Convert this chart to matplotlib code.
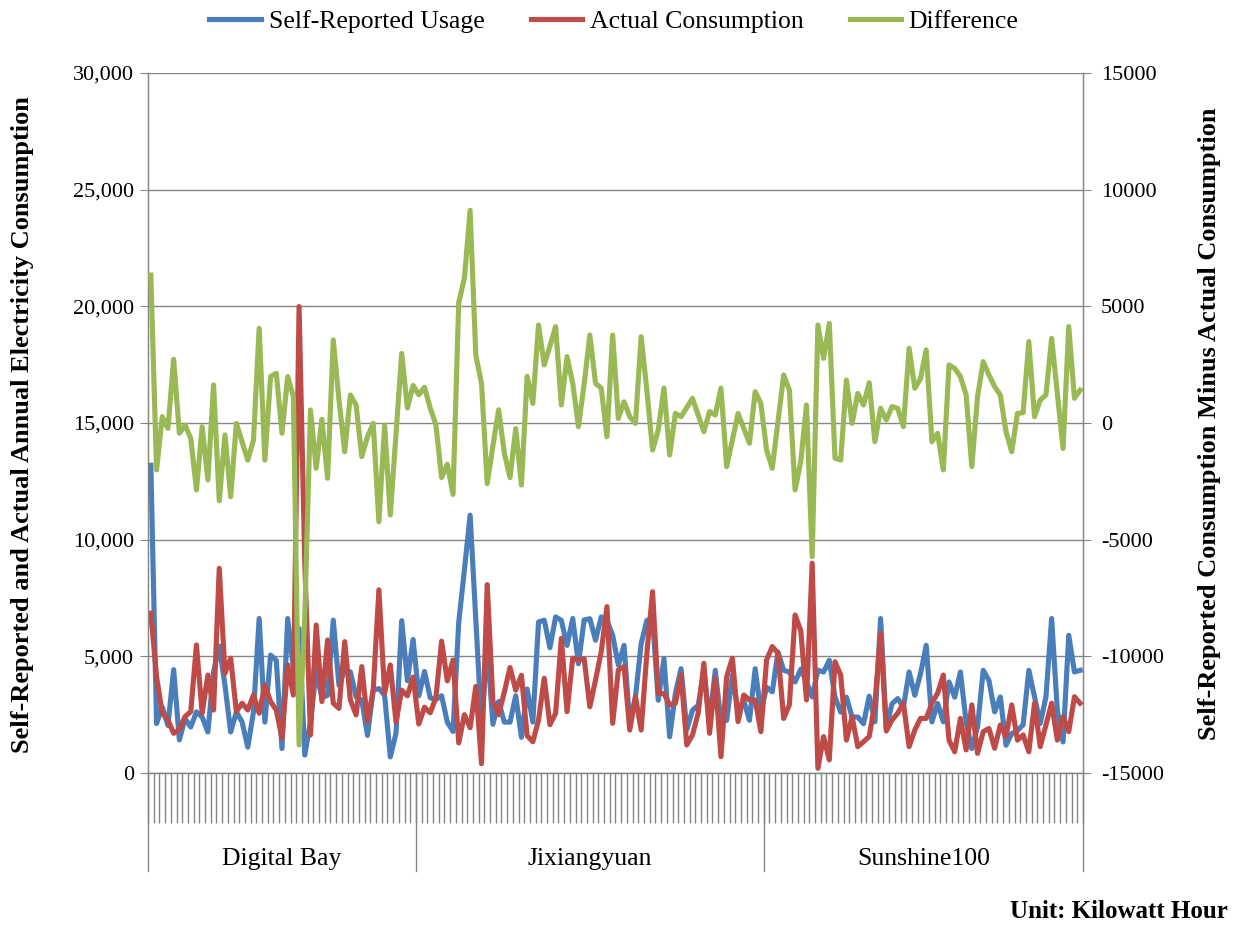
import matplotlib
matplotlib.use("Agg")
import matplotlib.pyplot as plt
import matplotlib.transforms as mtransforms
import numpy as np
from matplotlib.ticker import MultipleLocator, FuncFormatter

plt.rcParams['font.family'] = ['Liberation Serif', 'DejaVu Serif']

# ---------------- data ----------------
groups = ["Digital Bay", "Jixiangyuan", "Sunshine100"]
group_sizes = [47, 61, 56]

self_reported = [
    13190, 2120, 2830, 2040, 4430, 1420, 2330, 1970, 2620, 2400, 1760, 4330, 5440, 3760, 1760,
    2615, 2190, 1110, 2610, 6620, 2180, 5050, 4830, 1050, 6620, 4470, 6190, 770, 2190, 4400,
    3220, 3330, 6550, 3760, 4400, 4330, 3260, 3120, 1610, 3545, 3620, 3330, 690,
    1700, 6530, 3955, 5720, 3310, 4350, 3225, 3150, 3310, 2180, 1780, 6450, 8710, 11050, 6610,
    2090, 5470, 2090, 3065, 2180, 2180, 3310, 1530,
    3600, 2180, 6470, 6550, 5370, 6690, 6540, 5470, 6620, 4680, 6560, 6610, 5690, 6690, 6540,
    5900, 4620, 5470, 2110, 3255, 5540, 6540, 6610, 3120, 4900,
    1550, 3400, 4470, 1860, 2690, 2900, 4330, 2190, 4400, 2190, 2260, 4190, 2610, 3110, 2260,
    4470, 2610, 3680, 3480, 5190, 4400, 4330, 3900, 4450,
    3900, 3260, 4400, 4330, 4830, 3260, 2610, 3250, 2400, 2400, 2110, 3290, 2200, 6620, 1930,
    2970, 3190, 2830, 4330, 3330, 4250, 5470, 2190, 2980, 2190,
    3900, 3250, 4330, 2190, 1050, 1970, 4400, 3970, 2620, 3260, 1190, 1690, 1820, 2070, 4400,
    3260, 2120, 3260, 6620, 2680, 1330, 5900, 4330, 4400,
]

actual = [
    6850, 4130, 2560, 2270, 1700, 1860, 2420, 2630, 5490, 2560, 4200, 2700, 8770, 4270, 4920,
    2630, 2990, 2700, 3340, 2560, 3770, 3060, 2700, 1490, 4630, 3340, 19990, 9000, 1630, 6340,
    3060, 5700, 2990, 2770, 5630, 3130, 2490, 4560, 2200, 3560, 7850, 3420, 4630,
    2180, 3550, 3310, 4110, 2100, 2820, 2580, 3230, 5650, 3950, 4840, 1290, 2500, 1940, 3710,
    400, 8070, 3060, 2500, 3470, 4520, 3550, 4190,
    1600, 1340, 2270, 4060, 2070, 2560, 5770, 2630, 4920, 4840, 4900, 2840, 3990, 5200, 7130,
    2130, 4420, 4560, 1840, 3270, 1840, 5130, 7770, 3420, 3400,
    2920, 2990, 4200, 1200, 1630, 2560, 4700, 1700, 4060, 700, 4130, 4920, 2200, 3340, 3130,
    3130, 1770, 4840, 5420, 5130, 2340, 2920, 6770, 6100,
    3130, 8990, 200, 1560, 560, 4770, 4200, 1410, 2410, 1130, 1340, 1560, 3000, 5990, 1800,
    2270, 2560, 2990, 1130, 1840, 2340, 2340, 2990, 3420, 4200,
    1410, 910, 2340, 990, 2920, 840, 1770, 1910, 1060, 2060, 1560, 2920, 1410, 1630, 910,
    2990, 1130, 2060, 2990, 1410, 2420, 1770, 3270, 2990,
]

difference = [
    6340, -2010, 270, -230, 2730, -440, -90, -660, -2870, -160, -2440, 1630, -3330, -510, -3160,
    -15, -800, -1590, -730, 4060, -1590, 1990, 2130, -440, 1990, 1130, -13800, -8230, 560, -1940,
    160, -2370, 3560, 990, -1230, 1200, 770, -1440, -590, -15, -4230, -90, -3940,
    -480, 2980, 645, 1610, 1210, 1530, 645, -80, -2340, -1770, -3060, 5160, 6210, 9110, 2900,
    1690, -2600, -970, 565, -1290, -2340, -240, -2660,
    2000, 840, 4200, 2490, 3300, 4130, 770, 2840, 1700, -160, 1660, 3770, 1700, 1490, -590,
    3770, 200, 910, 270, -15, 3700, 1410, -1160, -300, 1500,
    -1370, 410, 270, 660, 1060, 340, -370, 490, 340, 1490, -1870, -730, 410, -230, -870,
    1340, 840, -1160, -1940, 60, 2060, 1410, -2870, -1650,
    770, -5730, 4200, 2770, 4270, -1510, -1590, 1840, -15, 1270, 770, 1730, -800, 630, 130,
    700, 630, -160, 3200, 1490, 1910, 3130, -800, -440, -2010,
    2490, 2340, 1990, 1200, -1870, 1130, 2630, 2060, 1560, 1200, -370, -1230, 410, 440, 3490,
    270, 990, 1200, 3630, 1270, -1090, 4130, 1060, 1410,
]

series_names = ["Self-Reported Usage", "Actual Consumption", "Difference"]
left_label = "Self-Reported and Actual Annual Electricity Consumption"
right_label = "Self-Reported Consumption Minus Actual Consumption"
unit_text = "Unit: Kilowatt Hour"

# ---------------- style ----------------
BLUE = '#4A7EBB'
RED = '#BE4B48'
GREEN = '#98B954'
GRID = '#868686'
LW = 3.7

n = len(self_reported)
x = np.arange(n) + 0.5

fig = plt.figure(figsize=(12.33, 9.25), dpi=100)
ax = fig.add_axes([0.12003, 0.16432, 0.75831, 0.75676])

l1, = ax.plot(x, self_reported, color=BLUE, lw=LW, solid_joinstyle='round', zorder=3)
l2, = ax.plot(x, actual, color=RED, lw=LW, solid_joinstyle='round', zorder=4)
ax.set_xlim(0, n)
ax.set_ylim(0, 30000)
ax.yaxis.set_major_locator(MultipleLocator(5000))
ax.yaxis.set_major_formatter(FuncFormatter(lambda v, p: f"{v:,.0f}"))
ax.grid(axis='y', color=GRID, linewidth=1.0)
ax.set_axisbelow(True)
ax.spines['top'].set_visible(False)
for s in ['left', 'bottom', 'right']:
    ax.spines[s].set_color(GRID)
    ax.spines[s].set_linewidth(1.0)
ax.tick_params(axis='y', direction='out', length=6, color=GRID, labelsize=16, pad=4)
ax.set_xticks(np.arange(0, n + 1))
ax.set_xticklabels([])
ax.tick_params(axis='x', direction='out', length=36, width=1.0, color=GRID)

ax2 = ax.twinx()
l3, = ax2.plot(x, difference, color=GREEN, lw=LW, solid_joinstyle='round', zorder=5)
ax2.set_ylim(-15000, 15000)
ax2.yaxis.set_major_locator(MultipleLocator(5000))
ax2.yaxis.set_major_formatter(FuncFormatter(lambda v, p: f"{v:.0f}"))
ax2.spines['top'].set_visible(False)
for s in ['left', 'bottom', 'right']:
    ax2.spines[s].set_color(GRID)
ax2.tick_params(axis='y', direction='out', length=6, color=GRID, labelsize=16, pad=7)

# group separators and labels
trans = mtransforms.blended_transform_factory(ax.transData, ax.transAxes)
bounds = np.concatenate([[0], np.cumsum(group_sizes)])
for b in bounds:
    ax.plot([b, b], [0, -98 / 700], transform=trans, color=GRID, lw=1.0, clip_on=False)
for g, a, b in zip(groups, bounds[:-1], bounds[1:]):
    ax.text((a + b) / 2, -86 / 700, g, transform=trans, ha='center', va='center', fontsize=18.5)

fig.legend([l1, l2, l3], series_names, loc='center', bbox_to_anchor=(0.498, 0.977), ncol=3,
           frameon=False, fontsize=18.5, handlelength=2.0, columnspacing=1.8, handletextpad=0.3)

fig.text(0.018, 0.541, left_label, rotation=90, ha='center', va='center', fontsize=19, fontweight='bold')
fig.text(0.981, 0.542, right_label, rotation=90, ha='center', va='center', fontsize=19, fontweight='bold')
fig.text(0.996, 0.015, unit_text, ha='right', va='center', fontsize=18, fontweight='bold')

fig.savefig('out.png', dpi=100)
